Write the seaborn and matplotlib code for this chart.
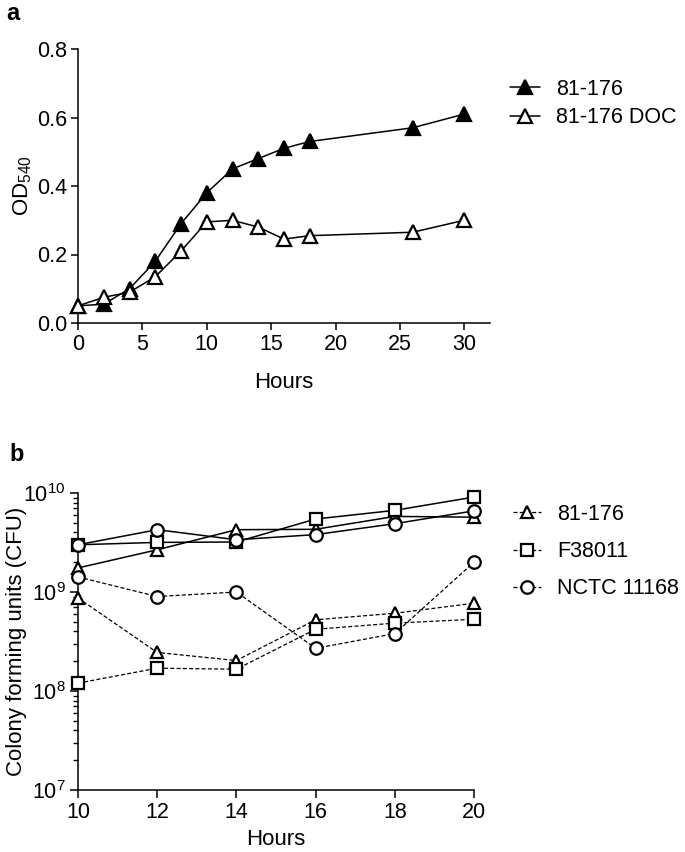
import numpy as np
import pandas as pd
import matplotlib
matplotlib.use("Agg")
import matplotlib.pyplot as plt
from matplotlib.lines import Line2D
from matplotlib.ticker import LogLocator, LogFormatterSciNotation, NullFormatter
import seaborn as sns

# ---------------- data ----------------
# Panel a: OD540 growth curves
hours_a = [0, 2, 4, 6, 8, 10, 12, 14, 16, 18, 26, 30]
od_81176 = [0.05, 0.055, 0.10, 0.18, 0.29, 0.38, 0.45, 0.48, 0.51, 0.53, 0.57, 0.61]
od_81176_doc = [0.05, 0.075, 0.09, 0.135, 0.21, 0.295, 0.30, 0.28, 0.245, 0.255, 0.265, 0.30]
labels_a = ["81-176", "81-176 DOC"]

# Panel b: CFU counts
hours_b = [10, 12, 14, 16, 18, 20]
strains_b = ["81-176", "F38011", "NCTC 11168"]
cfu_81176_solid = [1.75e9, 2.67e9, 4.26e9, 4.3e9, 5.8e9, 5.7e9]
cfu_f38011_solid = [3.0e9, 3.17e9, 3.2e9, 5.46e9, 6.68e9, 9.1e9]
cfu_nctc_solid = [3.0e9, 4.26e9, 3.37e9, 3.8e9, 4.9e9, 6.6e9]
cfu_81176_dash = [8.7e8, 2.45e8, 2.03e8, 5.24e8, 6.1e8, 7.7e8]
cfu_f38011_dash = [1.2e8, 1.7e8, 1.66e8, 4.2e8, 4.85e8, 5.3e8]
cfu_nctc_dash = [1.42e9, 9.0e8, 1.0e9, 2.7e8, 3.8e8, 2.0e9]

# ---------------- style ----------------
sns.set_theme(style="ticks")
plt.rcParams["font.family"] = ["Liberation Sans", "DejaVu Sans"]
plt.rcParams["mathtext.fontset"] = "custom"
plt.rcParams["mathtext.rm"] = "Liberation Sans"
plt.rcParams["mathtext.it"] = "Liberation Sans:italic"
plt.rcParams["mathtext.bf"] = "Liberation Sans:bold"
plt.rcParams["axes.linewidth"] = 1.1
plt.rcParams["xtick.major.width"] = 1.1
plt.rcParams["ytick.major.width"] = 1.1
plt.rcParams["ytick.minor.width"] = 1.0
plt.rcParams["xtick.color"] = "black"
plt.rcParams["ytick.color"] = "black"
plt.rcParams["xtick.labelcolor"] = "black"
plt.rcParams["ytick.labelcolor"] = "black"
plt.rcParams["axes.edgecolor"] = "black"
plt.rcParams["axes.labelcolor"] = "black"
plt.rcParams["text.color"] = "black"

FS = 15.5
W, H = 685, 852
fig = plt.figure(figsize=(W / 100, H / 100), dpi=100)

def px_axes(left, top, right, bottom):
    return fig.add_axes([left / W, 1 - bottom / H, (right - left) / W, (bottom - top) / H])

# ---------------- panel a ----------------
ax1 = px_axes(78, 49, 490, 323)
df_a = pd.DataFrame({"Hours": hours_a * 2,
                     "OD": od_81176 + od_81176_doc,
                     "Strain": [labels_a[0]] * len(hours_a) + [labels_a[1]] * len(hours_a)})
common = dict(color="black", linewidth=1.1, markersize=10.5, markeredgecolor="black",
              markeredgewidth=1.6, clip_on=False)
sns.lineplot(data=df_a[df_a.Strain == labels_a[0]], x="Hours", y="OD", ax=ax1,
             marker="^", markerfacecolor="black", zorder=3, **common)
sns.lineplot(data=df_a[df_a.Strain == labels_a[1]], x="Hours", y="OD", ax=ax1,
             marker="^", markerfacecolor="white", zorder=4, **common)
ax1.set_xlim(0, 32)
ax1.set_ylim(0, 0.8)
ax1.set_xticks([0, 5, 10, 15, 20, 25, 30])
ax1.set_yticks([0.0, 0.2, 0.4, 0.6, 0.8])
ax1.yaxis.set_major_formatter(matplotlib.ticker.FormatStrFormatter("%.1f"))
ax1.tick_params(labelsize=FS, length=5, pad=3)
sns.despine(ax=ax1)
ax1.set_xlabel("Hours", fontsize=16)
ax1.set_ylabel(r"OD$_{\mathregular{540}}$", fontsize=16)
ax1.xaxis.set_label_coords(0.5, -0.18)
ax1.yaxis.set_label_coords(-0.108, 0.5)

handles_a = [Line2D([], [], color="black", lw=1.1, marker="^", markersize=10.5,
                    markerfacecolor="black", markeredgecolor="black", markeredgewidth=1.6),
             Line2D([], [], color="black", lw=1.1, marker="^", markersize=10.5,
                    markerfacecolor="white", markeredgecolor="black", markeredgewidth=1.6)]
fig.legend(handles_a, labels_a, loc="upper left", bbox_to_anchor=(510 / W, 1 - 79 / H),
           frameon=False, fontsize=FS, handlelength=1.4, handletextpad=0.75,
           labelspacing=0.33, borderpad=0, borderaxespad=0)

# ---------------- panel b ----------------
ax2 = px_axes(78, 493, 474, 790)
solid = [cfu_81176_solid, cfu_f38011_solid, cfu_nctc_solid]
dash = [cfu_81176_dash, cfu_f38011_dash, cfu_nctc_dash]
markers = ["^", "s", "o"]
mk = dict(color="black", markersize=9, markerfacecolor="white", markeredgecolor="black",
          markeredgewidth=1.6, clip_on=False)
for name, ys, m in zip(strains_b, solid, markers):
    d = pd.DataFrame({"Hours": hours_b, "CFU": ys})
    sns.lineplot(data=d, x="Hours", y="CFU", ax=ax2, marker=m, linewidth=1.1,
                 zorder=3, **mk)
for name, ys, m in zip(strains_b, dash, markers):
    d = pd.DataFrame({"Hours": hours_b, "CFU": ys})
    sns.lineplot(data=d, x="Hours", y="CFU", ax=ax2, marker=m, linewidth=0.9,
                 linestyle=(0, (3.2, 1.8)), zorder=3, **mk)
ax2.set_yscale("log")
ax2.set_xlim(10, 20)
ax2.set_ylim(1e7, 1e10)
ax2.set_xticks(hours_b)
ax2.yaxis.set_major_locator(LogLocator(base=10, numticks=10))
ax2.yaxis.set_minor_locator(LogLocator(base=10, subs=np.arange(2, 10), numticks=20))
ax2.yaxis.set_major_formatter(LogFormatterSciNotation())
ax2.yaxis.set_minor_formatter(NullFormatter())
ax2.tick_params(labelsize=FS, length=6, pad=3)
ax2.tick_params(axis="y", which="minor", length=3.5, left=True)
sns.despine(ax=ax2)
ax2.set_xlabel("Hours", fontsize=16)
ax2.set_ylabel("Colony forming units (CFU)", fontsize=16)
ax2.xaxis.set_label_coords(0.5, -0.132)
ax2.yaxis.set_label_coords(-0.128, 0.5)

handles_b = [Line2D([], [], color="black", lw=0.9, linestyle=(0, (3.2, 1.8)), marker=m,
                    markersize=9, markerfacecolor="white", markeredgecolor="black",
                    markeredgewidth=1.6) for m in markers]
fig.legend(handles_b, strains_b, loc="upper left", bbox_to_anchor=(513 / W, 1 - 504 / H),
           frameon=False, fontsize=FS, handlelength=1.3, handletextpad=0.75,
           labelspacing=0.75, borderpad=0, borderaxespad=0)

# panel letters
fig.text(6 / W, 1 - 2 / H, "a", fontsize=17, fontweight="bold", va="top", ha="left")
fig.text(9 / W, 1 - 443 / H, "b", fontsize=17, fontweight="bold", va="top", ha="left")

fig.savefig("out.png", dpi=100)
